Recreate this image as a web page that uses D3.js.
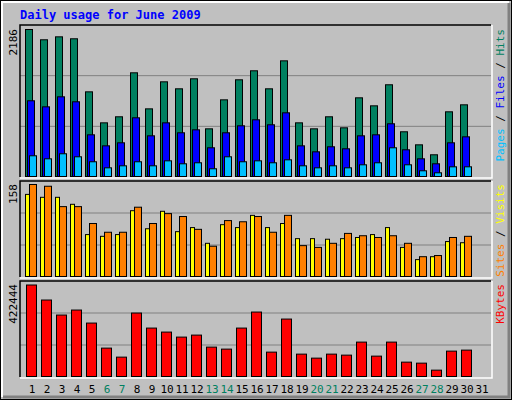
<!DOCTYPE html>
<html><head><meta charset="utf-8">
<script src="https://cdn.jsdelivr.net/npm/d3@7"></script>
<style>body{margin:0;background:#fff}</style>
</head><body>
<script>
const days = d3.range(1, 32);
const weekend = [6, 7, 13, 14, 20, 21, 27, 28];
const hits = [2186,2033,2077,2048,1259,798,888,1542,1006,1408,1304,1453,709,1140,1438,1572,1304,1720,798,709,888,724,1170,1051,1364,665,471,323,962,1066,0];
const files = [1126,1036,1185,1111,620,456,501,873,605,798,650,694,427,650,754,843,769,947,456,367,442,412,605,620,784,397,263,189,501,590,0];
const pages = [308,263,338,293,219,129,159,219,159,233,189,204,115,293,219,233,204,248,159,129,159,129,174,204,427,174,85,55,144,144,0];
const visits = [141,136,136,124,72,69,72,113,82,112,77,84,57,89,84,105,84,91,65,65,64,65,67,72,84,50,29,34,60,58,0];
const sites = [158,155,120,120,91,76,76,119,91,108,103,81,52,96,94,103,76,105,53,50,57,74,70,67,70,57,34,36,67,69,0];
const kbytes = [422444,353073,283691,306818,246688,131053,89424,292942,223561,205059,181932,191183,135678,126428,223561,297567,112551,265190,103301,84799,103301,98675,158805,94050,158805,66297,61672,29294,117177,121802,0];

const svg = d3.select('body').append('svg').attr('width', 512).attr('height', 400)
  .style('font-family', '"DejaVu Sans Mono", monospace');

// frame
svg.append('rect').attr('x', 0.5).attr('y', 0.5).attr('width', 511).attr('height', 399).attr('fill', '#c0c0c0').attr('stroke', '#000');
svg.append('path').attr('d', 'M2,397V2H509').attr('fill', 'none').attr('stroke', '#fff').attr('stroke-width', 2);
svg.append('path').attr('d', 'M3,397H509V3').attr('fill', 'none').attr('stroke', '#808080').attr('stroke-width', 3);

svg.append('text').attr('x', 20).attr('y', 19).attr('fill', '#0000ff')
  .attr('font-size', 12).attr('font-weight', 'bold').text('Daily usage for June 2009');

const x = d3.scaleLinear().domain([1, 31]).range([25, 475]);
const L = 20, R = 491;

function panel(top, bottom) {
  const g = svg.append('g');
  g.append('rect').attr('x', L).attr('y', top).attr('width', R - L).attr('height', bottom - top).attr('fill', '#c0c0c0');
  const h = bottom - top;
  [1, 2].forEach(k => g.append('line').attr('x1', L).attr('x2', R)
    .attr('y1', bottom - h * k / 3).attr('y2', bottom - h * k / 3).attr('stroke', '#808080'));
  g.append('path').attr('d', `M${L},${bottom}V${top}H${R}`).attr('fill', 'none').attr('stroke', '#000').attr('stroke-width', 1.5);
  g.append('path').attr('d', `M${L},${bottom + 1}H${R + 1}V${top}`).attr('fill', 'none').attr('stroke', '#fff').attr('stroke-width', 1.5);
  return g;
}

function bars(g, data, y, dx, w, color) {
  g.selectAll(null).data(data.map((v, i) => [i + 1, v]).filter(d => d[1] > 0)).enter().append('rect')
    .attr('x', d => x(d[0]) + dx + 0.5).attr('width', w)
    .attr('y', d => y(d[1]) + 0.5).attr('height', d => y(0) - y(d[1]))
    .attr('fill', color).attr('stroke', '#000').attr('stroke-width', 1);
}

function vlabel(xp, yp, parts, anchor) {
  const t = svg.append('text').attr('transform', `translate(${xp},${yp}) rotate(-90)`)
    .attr('font-size', 11).attr('text-anchor', anchor);
  parts.forEach(p => t.append('tspan').attr('fill', p[1]).text(p[0]));
}

// top panel
const p1 = panel(25, 177);
const y1 = d3.scaleLinear().domain([0, d3.max(hits)]).range([176, 29]);
bars(p1, hits, y1, 0, 7, '#008060');
bars(p1, files, y1, 2, 7, '#0000ff');
bars(p1, pages, y1, 4, 7, '#00c0ff');
vlabel(17, 29, [[d3.max(hits), '#000']], 'end');
vlabel(504, 29, [['Pages', '#00c0ff'], [' / ', '#000'], ['Files', '#0000ff'], [' / ', '#000'], ['Hits', '#008060']], 'end');

// middle panel
const p2 = panel(181, 277);
const y2 = d3.scaleLinear().domain([0, d3.max(sites)]).range([276, 184]);
bars(p2, visits, y2, 0, 4, '#ffff00');
bars(p2, sites, y2, 4, 7, '#ff8000');
vlabel(17, 184, [[d3.max(sites), '#000']], 'end');
vlabel(504, 184, [['Sites', '#ff8000'], [' / ', '#000'], ['Visits', '#ffff00']], 'end');

// bottom panel
const p3 = panel(281, 377);
const y3 = d3.scaleLinear().domain([0, d3.max(kbytes)]).range([376, 284.5]);
bars(p3, kbytes, y3, 1, 10, '#ff0000');
vlabel(17, 284, [[d3.max(kbytes), '#000']], 'end');
vlabel(504, 284, [['KBytes', '#ff0000']], 'end');

svg.selectAll('.day').data(days).enter().append('text')
  .attr('x', d => x(d) + 7).attr('y', 393).attr('text-anchor', 'middle').attr('font-size', 11)
  .attr('fill', d => weekend.includes(d) ? '#008060' : '#000').text(d => d);
</script>
</body></html>
